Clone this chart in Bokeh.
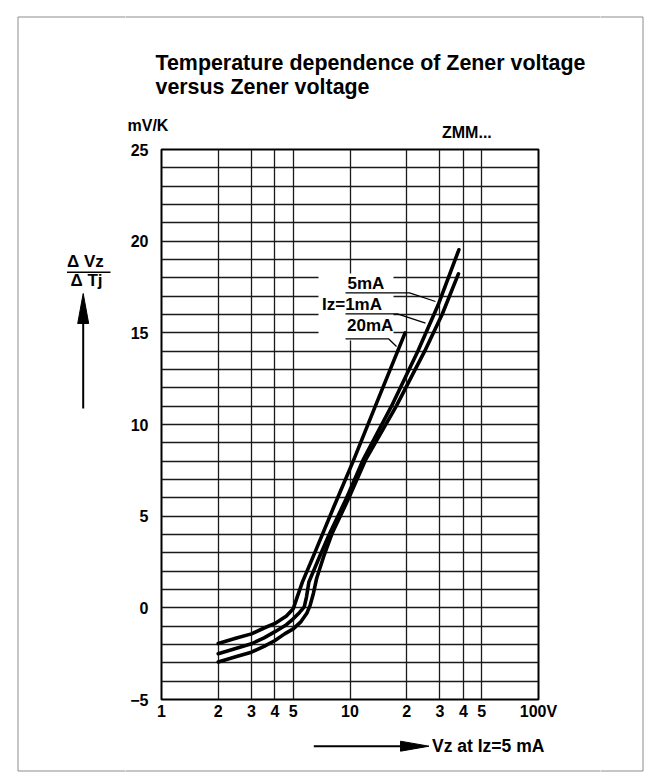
from bokeh.plotting import figure
from bokeh.models import FixedTicker, Range1d
from bokeh.layouts import column, row
from bokeh.core.properties import value
from bokeh.embed import file_html
from bokeh.resources import INLINE

# ---------------- data ----------------
vz_20mA = [2.0, 2.5, 3.0, 3.5, 4.0, 4.6, 5.0, 5.25, 5.59, 6.5, 8.2, 10.4, 14.0, 19.6]
tc_20mA = [-1.95, -1.65, -1.42, -1.1, -0.85, -0.45, -0.05, 0.6, 1.4, 3.0, 5.5, 8.0, 11.3, 15.0]

vz_5mA = [2.0, 2.5, 3.0, 3.5, 4.0, 4.6, 5.0, 5.4, 5.72, 5.88, 6.05, 6.9, 7.8, 9.6, 11.7, 16.6, 22.9, 29.3, 37.8]
tc_5mA = [-2.5, -2.2, -1.96, -1.64, -1.3, -0.92, -0.6, -0.25, 0.05, 0.6, 1.4, 2.8, 4.05, 6.0, 8.04, 11.0, 14.0, 16.5, 19.53]

vz_1mA = [2.0, 2.5, 3.0, 3.5, 4.0, 4.5, 5.0, 5.5, 5.9, 6.15, 6.4, 6.65, 7.25, 8.03, 9.87, 12.05, 17.6, 24.9, 30.8, 37.6]
tc_1mA = [-2.95, -2.65, -2.42, -2.1, -1.78, -1.42, -1.15, -0.75, -0.3, 0.15, 0.8, 1.6, 2.8, 4.05, 6.0, 8.04, 11.0, 14.0, 16.0, 18.22]

x_ticks = [1, 2, 3, 4, 5, 10, 20, 30, 40, 50, 100]
x_tick_labels = ["1", "2", "3", "4", "5", "10", "2", "3", "4", "5", "100V"]
x_grid = [2, 3, 4, 5, 10, 20, 30, 40, 50]
y_ticks = [-5, 0, 5, 10, 15, 20, 25]
y_grid = list(range(-5, 26))

curve_label_text = ["5mA", "Iz=1mA", "20mA"]

FONT = "Liberation Sans"
SHIFT = 0.33   # correction of the text baseline, as a fraction of the font size

# ---------------- page geometry (pixels) ----------------
W, H = 648, 779
FL, FR, FT, FB = 161, 538, 149, 699          # chart frame
L0, R0, T0, B0 = 125, 600, 140, 725          # split of the page into panels


def vx(px):
    return 10 ** (2 * (px - FL) / (FR - FL))


def vy(py):
    return 25 - 30 * (py - FT) / (FB - FT)


# ---------------- main chart ----------------
p = figure(frame_width=FR - FL, frame_height=FB - FT,
           x_axis_type="log", x_range=Range1d(1, 100), y_range=Range1d(-5, 25),
           output_backend="svg", toolbar_location=None,
           min_border_left=FL - L0, min_border_right=R0 - FR,
           min_border_top=FT - T0, min_border_bottom=B0 - FB)
p.title.visible = False
p.background_fill_color = "white"
p.border_fill_color = "white"
p.outline_line_color = "black"
p.outline_line_width = 2

for ax in (p.xaxis[0], p.yaxis[0]):
    ax.axis_line_color = None
    ax.major_tick_line_color = None
    ax.minor_tick_line_color = None
    ax.major_tick_in = 0
    ax.major_tick_out = 0
    ax.minor_tick_in = 0
    ax.minor_tick_out = 0
    ax.major_label_text_font = FONT
    ax.major_label_text_font_size = "16px"
    ax.major_label_text_font_style = "bold"
    ax.major_label_text_color = "black"

p.xaxis.ticker = FixedTicker(ticks=x_ticks)
p.xaxis.major_label_overrides = {t: l for t, l in zip(x_ticks, x_tick_labels)}
p.xaxis.major_label_standoff = 3
p.yaxis.ticker = FixedTicker(ticks=y_ticks)
p.yaxis.major_label_standoff = 13

p.xgrid.ticker = FixedTicker(ticks=x_grid)
p.ygrid.ticker = FixedTicker(ticks=y_grid)
for g in (p.xgrid[0], p.ygrid[0]):
    g.grid_line_color = "#1a1a1a"
    g.grid_line_width = 1.3
    g.grid_line_alpha = 1.0
    g.level = "underlay"

# white background behind the curve labels (hides the grid there)
p.quad(left=[vx(318)], right=[vx(393)], bottom=[vy(340)], top=[vy(273)],
       fill_color="white", line_color=None)

# curves
for xs, ys in ((vz_20mA, tc_20mA), (vz_5mA, tc_5mA), (vz_1mA, tc_1mA)):
    p.line(xs, ys, line_color="black", line_width=3.6, line_join="round", line_cap="round")

# leader lines of the curve labels
leaders = [
    [(345, 292.3), (409, 292.3), (435, 301.0)],
    [(345, 313.3), (397, 313.3), (425, 322.7)],
    [(345, 338.3), (388, 338.3), (396, 346.0)],
]
for pts in leaders:
    p.line([vx(a) for a, b in pts], [vy(b) for a, b in pts], line_color="black", line_width=1.3)

lab_px = [(347, 289), (321.5, 309.5), (346.5, 331)]
p.text(x=[vx(a) for a, b in lab_px], y=[vy(b - SHIFT * 17) for a, b in lab_px], text=curve_label_text,
       text_font=value(FONT), text_font_size=value("17px"), text_font_style="bold",
       text_align="left", text_baseline="alphabetic", text_color="black")


# ---------------- decoration panels around the chart ----------------
def panel(x0, x1, y0, y1):
    f = figure(frame_width=x1 - x0, frame_height=y1 - y0,
               x_range=Range1d(x0, x1), y_range=Range1d(y1, y0),
               min_border=0, toolbar_location=None, output_backend="svg",
               x_axis_location=None, y_axis_location=None)
    f.title.visible = False
    f.grid.visible = False
    f.outline_line_color = None
    f.background_fill_color = "white"
    f.border_fill_color = "white"
    return f


def put_text(f, items, size):
    f.text(x=[t[1] for t in items], y=[t[2] - SHIFT * size for t in items], text=[t[0] for t in items],
           text_font=value(FONT), text_font_size=value(f"{size}px"), text_font_style="bold",
           text_align="left", text_baseline="alphabetic", text_color="black")


def hline(f, x0, x1, y, col, lw):
    f.segment(x0=[x0], y0=[y], x1=[x1], y1=[y], line_color=col, line_width=lw)


def vline(f, x, y0, y1, col, lw):
    f.segment(x0=[x], y0=[y0], x1=[x], y1=[y1], line_color=col, line_width=lw)


BORDER = "#8c8c8c"
BX0, BX1, BY0, BY1 = 17.5, 642.5, 16.5, 770.5

# left strip (full height)
left = panel(0, L0, 0, H)
put_text(left, [("\u0394 Vz", 66.5, 266.5), ("\u0394 Tj", 70, 285.5)], 17)
hline(left, 66.5, 110, 271.7, "black", 1.5)
vline(left, 82.7, 408, 318, "black", 2)
left.patch([82.7, 77.2, 88.2], [293, 323, 323], fill_color="black", line_color="black", line_width=1)
vline(left, BX0, BY0, BY1, BORDER, 1)
hline(left, BX0, L0 + 5, BY0, BORDER, 1)
hline(left, BX0, L0 + 5, BY1, BORDER, 1)

# right strip (full height)
right = panel(R0, W, 0, H)
vline(right, BX1, BY0, BY1, BORDER, 1)
hline(right, R0 - 5, BX1, BY0, BORDER, 1)
hline(right, R0 - 5, BX1, BY1, BORDER, 1)

# top strip
top = panel(L0, R0, 0, T0)
put_text(top, [("Temperature dependence of Zener voltage", 155, 69.5),
               ("versus Zener voltage", 155, 93.5)], 21.4)
put_text(top, [("mV/K", 127, 130), ("ZMM...", 441.5, 137.5)], 16)
hline(top, L0 - 5, R0 + 5, BY0, BORDER, 1)

# bottom strip
bottom = panel(L0, R0, B0, H)
put_text(bottom, [("Vz at Iz=5 mA", 431.5, 751.5)], 17.5)
hline(bottom, 313.3, 405, 745.7, "black", 2)
bottom.patch([428.5, 400, 400], [745.7, 740.7, 750.7], fill_color="black", line_color="black", line_width=1)
hline(bottom, L0 - 5, R0 + 5, BY1, BORDER, 1)

# the chart is wrapped in its own column so that its frame is not aligned with the strips
layout = row(left, column(top, column(p), bottom), right)

open("out.html", "w").write(file_html(layout, INLINE))
